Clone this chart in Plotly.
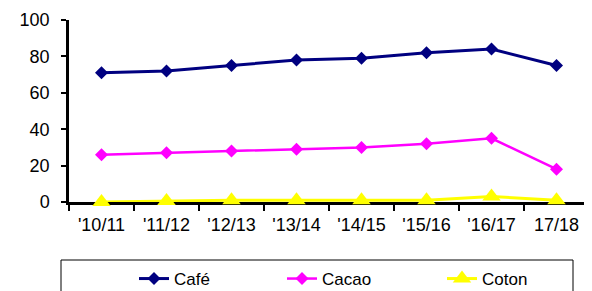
import plotly.graph_objects as go

seasons = ["'10/11", "'11/12", "'12/13", "'13/14", "'14/15", "'15/16", "'16/17", "17/18"]
cafe = [71, 72, 75, 78, 79, 82, 84, 75]
cacao = [26, 27, 28, 29, 30, 32, 35, 18]
coton = [0, 0.5, 1, 1, 1, 1, 3, 1]

FONT = "Liberation Sans, Arial, sans-serif"

# page has an 8px body margin; work in page pixels and convert
OFF = 8
W, H = 592 - OFF, 291 - OFF
PL, PR, PT, PB = 69, 589, 20, 202  # plot area in page pixels
L, T = PL - OFF, PT - OFF
R = W - (PR - OFF)
B = H - (PB - OFF)
pw, ph = W - L - R, H - T - B


def px_x(p):
    return (p - PL) / pw


def px_y(p):
    return (PB - p) / ph


fig = go.Figure()
fig.add_trace(go.Scatter(x=seasons, y=cafe, name="Café", mode="lines+markers",
                         line=dict(color="#000080", width=3),
                         marker=dict(symbol="diamond", size=10, color="#000080"),
                         legend="legend"))
fig.add_trace(go.Scatter(x=seasons, y=cacao, name="Cacao", mode="lines+markers",
                         line=dict(color="#FF00FF", width=2.5),
                         marker=dict(symbol="diamond", size=10, color="#FF00FF"),
                         legend="legend2"))
fig.add_trace(go.Scatter(x=seasons, y=coton, name="Coton", mode="lines+markers",
                         line=dict(color="#FFFF00", width=3),
                         marker=dict(symbol="triangle-up", size=16, color="#FFFF00",
                                     line=dict(width=0)),
                         legend="legend3", cliponaxis=False))

leg_common = dict(orientation="h", bgcolor="rgba(0,0,0,0)", borderwidth=0,
                  font=dict(family=FONT, size=17, color="black"),
                  xanchor="left", yanchor="middle", itemwidth=30)

fig.update_layout(
    width=W, height=H,
    margin=dict(l=L, r=R, t=T, b=B, autoexpand=False),
    plot_bgcolor="white", paper_bgcolor="white",
    font=dict(family=FONT, size=17, color="black"),
    showlegend=True,
    legend=dict(x=px_x(134), y=px_y(279), **leg_common),
    legend2=dict(x=px_x(282), y=px_y(279), **leg_common),
    legend3=dict(x=px_x(442), y=px_y(279), **leg_common),
    xaxis=dict(type="category", range=[-0.5, 7.5], showline=True, linecolor="black",
               linewidth=2.5, ticks="outside", tickson="boundaries", ticklen=6,
               tickwidth=2, tickcolor="black", showgrid=False, zeroline=False,
               ticklabelstandoff=5, layer="below traces",
               tickfont=dict(family=FONT, size=18, color="black")),
    yaxis=dict(range=[0, 100], dtick=20, showline=True, linecolor="black",
               linewidth=2.5, ticks="outside", ticklen=5, tickwidth=2,
               tickcolor="black", showgrid=False, zeroline=False,
               ticklabelstandoff=8, layer="below traces",
               tickfont=dict(family=FONT, size=18, color="black")),
    shapes=[dict(type="rect", xref="paper", yref="paper",
                 x0=px_x(61), x1=px_x(573), y0=px_y(260), y1=px_y(300),
                 line=dict(color="black", width=1), fillcolor="rgba(0,0,0,0)")],
)

fig.write_html("out.html")
